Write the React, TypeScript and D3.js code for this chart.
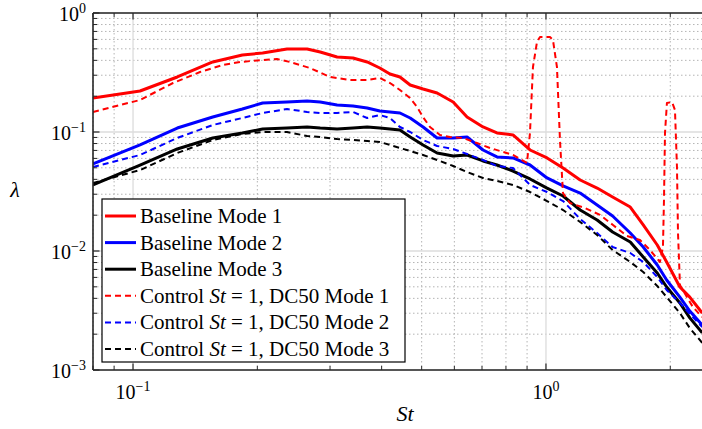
import React from "react";
import * as d3 from "d3";

const ST = [0.080,0.104,0.128,0.156,0.184,0.206,0.236,0.264,0.284,0.312,0.341,0.369,0.396,0.419,0.443,0.469,0.504,0.545,0.596,0.644,0.704,0.761,0.832,0.915,1.006,1.10,1.21,1.33,1.45,1.60,1.72,1.86,1.96,2.11,2.23,2.39];

const BASE1 = [0.1931,0.2211,0.2899,0.3877,0.4437,0.4611,0.4982,0.4982,0.4702,0.4270,0.4186,0.3877,0.3450,0.3073,0.2899,0.2483,0.2298,0.2127,0.1787,0.1337,0.1102,0.0981,0.0944,0.0706,0.0605,0.0498,0.0395,0.0338,0.0284,0.0234,0.01654,0.01123,0.00808,0.00498,0.00410,0.00301];
const BASE2 = [0.0539,0.0778,0.1080,0.1337,0.1561,0.1753,0.1787,0.1822,0.1787,0.1686,0.1654,0.1591,0.1501,0.1473,0.1444,0.1311,0.1102,0.0891,0.0891,0.0908,0.0706,0.0617,0.0605,0.0528,0.0411,0.0352,0.0307,0.0244,0.0197,0.01417,0.01080,0.00763,0.00571,0.00410,0.00313,0.00239];
const BASE3 = [0.0359,0.0528,0.0720,0.0891,0.0981,0.1060,0.1080,0.1102,0.1080,0.1060,0.1080,0.1102,0.1080,0.1060,0.1039,0.0908,0.0778,0.0666,0.0629,0.0641,0.0571,0.0528,0.0470,0.0403,0.0338,0.0290,0.0221,0.01822,0.01444,0.01190,0.00891,0.00653,0.00498,0.00366,0.00274,0.00205];
const CTRL2 = [0.0508,0.0641,0.0891,0.1145,0.1311,0.1444,0.1561,0.1473,0.1444,0.1444,0.1473,0.1311,0.1389,0.1311,0.1102,0.1000,0.0857,0.0763,0.0720,0.0653,0.0582,0.0518,0.0498,0.0359,0.0313,0.0263,0.01857,0.01417,0.01080,0.00962,0.00808,0.00605,0.00470,0.00366,0.00296,0.00230];
const CTRL3 = [0.0373,0.0479,0.0666,0.0857,0.0962,0.1000,0.1000,0.0926,0.0908,0.0873,0.0857,0.0840,0.0824,0.0778,0.0734,0.0692,0.0641,0.0582,0.0518,0.0461,0.0411,0.0388,0.0359,0.0313,0.0263,0.0221,0.01753,0.01363,0.01019,0.00808,0.00666,0.00508,0.00410,0.00301,0.00225,0.00169];

const ST_C1 = [0.0800,0.1040,0.1250,0.1453,0.1651,0.1816,0.2064,0.2232,0.2399,0.2683,0.2999,0.3352,0.3686,0.3963,0.4190,0.4430,0.4685,0.4873,0.5038,0.5238,0.5538,0.5856,0.6295,0.6806,0.7318,0.8319,0.8995,0.9147,0.9301,0.9511,0.9672,1.0226,1.0397,1.0632,1.0812,1.0995,1.1430,1.2428,1.3514,1.453,1.571,1.689,1.786,1.888,1.920,1.931,1.942,1.963,2.019,2.053,2.076,2.088,2.111,2.194,2.269,2.387];
const CTRL1 = [0.1473,0.1858,0.2581,0.3192,0.3656,0.3877,0.4027,0.4106,0.3877,0.3450,0.2899,0.2735,0.2735,0.2842,0.2581,0.2254,0.1931,0.1622,0.1337,0.1102,0.0944,0.0908,0.0891,0.0808,0.0734,0.0641,0.0549,0.0981,0.3517,0.5706,0.6285,0.6285,0.5931,0.3517,0.0857,0.0307,0.0253,0.0230,0.0201,0.01654,0.01337,0.01237,0.01019,0.00808,0.01080,0.0268,0.0981,0.1753,0.1787,0.1531,0.0508,0.01417,0.00518,0.00410,0.00338,0.00279];

const X_MAJOR = [0.1, 1];
const X_MAJOR_EXP = ["\u22121", "0"];
const Y_MAJOR = [1e-3, 1e-2, 1e-1, 1];
const Y_MAJOR_EXP = ["\u22123", "\u22122", "\u22121", "0"];

const SERIES = [
  { label: "Baseline Mode 1", x: ST, y: BASE1, color: "#ff0000", dashed: false },
  { label: "Baseline Mode 2", x: ST, y: BASE2, color: "#0000ff", dashed: false },
  { label: "Baseline Mode 3", x: ST, y: BASE3, color: "#000000", dashed: false },
  { label: "Control St = 1, DC50 Mode 1", x: ST_C1, y: CTRL1, color: "#ff0000", dashed: true },
  { label: "Control St = 1, DC50 Mode 2", x: ST, y: CTRL2, color: "#0000ff", dashed: true },
  { label: "Control St = 1, DC50 Mode 3", x: ST, y: CTRL3, color: "#000000", dashed: true },
];

const W = 702, H = 429;
const L = 93, R = 702, T = 13, B = 370;
const FONT = "'Liberation Serif', 'Times New Roman', serif";

export default function App() {
  const x = d3.scaleLog().domain([0.08, 2.387]).range([L, R]);
  const y = d3.scaleLog().domain([1e-3, 1]).range([B, T]);

  const xMinor: number[] = [];
  [0.01, 0.1, 1].forEach((d) => {
    for (let k = 2; k <= 9; k++) {
      const v = d * k;
      if (v >= 0.08 && v <= 2.387) xMinor.push(v);
    }
  });
  const yMinor: number[] = [];
  [1e-3, 1e-2, 1e-1].forEach((d) => {
    for (let k = 2; k <= 9; k++) yMinor.push(d * k);
  });

  const line = (xs: number[], ys: number[]) =>
    d3.line<number>().x((_, i) => x(xs[i])).y((v) => y(v))(ys) || "";

  const axisColor = "#262626";
  const legX = 102, legY = 199, legW = 303, legH = 163;
  const rowH = 26.6;

  return (
    <div style={{ position: "absolute", left: 0, top: 0 }}>
      <svg width={W} height={H} style={{ display: "block", background: "#fff" }} fontFamily={FONT}>
        <defs>
          <clipPath id="plot">
            <rect x={L} y={T} width={R - L} height={B - T} />
          </clipPath>
        </defs>
        {/* minor grid */}
        {xMinor.map((v) => (
          <line key={"xm" + v} x1={x(v)} x2={x(v)} y1={T} y2={B} stroke="#b4b4b4" strokeWidth={1} strokeDasharray="1.5,2.5" />
        ))}
        {yMinor.map((v) => (
          <line key={"ym" + v} x1={L} x2={R} y1={y(v)} y2={y(v)} stroke="#b4b4b4" strokeWidth={1} strokeDasharray="1.5,2.5" />
        ))}
        {/* major grid */}
        {X_MAJOR.map((v) => (
          <line key={"xM" + v} x1={x(v)} x2={x(v)} y1={T} y2={B} stroke="#dcdcdc" strokeWidth={1.3} />
        ))}
        {Y_MAJOR.map((v) => (
          <line key={"yM" + v} x1={L} x2={R} y1={y(v)} y2={y(v)} stroke="#dcdcdc" strokeWidth={1.3} />
        ))}
        {/* series */}
        <g clipPath="url(#plot)">
          {SERIES.map((s) => (
            <path key={s.label} d={line(s.x, s.y)} fill="none" stroke={s.color}
              strokeWidth={s.dashed ? 2 : 3} strokeDasharray={s.dashed ? "6,4" : undefined}
              strokeLinejoin="round" />
          ))}
        </g>
        {/* axes */}
        <line x1={L} x2={R} y1={B} y2={B} stroke={axisColor} strokeWidth={1.6} />
        <line x1={L} x2={R} y1={T} y2={T} stroke={axisColor} strokeWidth={1.6} />
        <line x1={L} x2={L} y1={T} y2={B} stroke={axisColor} strokeWidth={1.6} />
        {xMinor.map((v) => (
          <g key={"xt" + v}>
            <line x1={x(v)} x2={x(v)} y1={B} y2={B - 4} stroke={axisColor} strokeWidth={1} />
            <line x1={x(v)} x2={x(v)} y1={T} y2={T + 4} stroke={axisColor} strokeWidth={1} />
          </g>
        ))}
        {X_MAJOR.map((v) => (
          <g key={"xT" + v}>
            <line x1={x(v)} x2={x(v)} y1={B} y2={B - 6.5} stroke={axisColor} strokeWidth={1.2} />
            <line x1={x(v)} x2={x(v)} y1={T} y2={T + 6.5} stroke={axisColor} strokeWidth={1.2} />
          </g>
        ))}
        {yMinor.map((v) => (
          <line key={"yt" + v} x1={L} x2={L + 4} y1={y(v)} y2={y(v)} stroke={axisColor} strokeWidth={1} />
        ))}
        {Y_MAJOR.map((v) => (
          <line key={"yT" + v} x1={L} x2={L + 6.5} y1={y(v)} y2={y(v)} stroke={axisColor} strokeWidth={1.2} />
        ))}
        {/* tick labels */}
        {X_MAJOR.map((v, i) => (
          <text key={"xl" + v} x={x(v)} y={B + 29} textAnchor="middle" fontSize={20} fill="#000">
            10<tspan fontSize={14} dy={-8}>{X_MAJOR_EXP[i]}</tspan>
          </text>
        ))}
        {Y_MAJOR.map((v, i) => (
          <text key={"yl" + v} x={86} y={y(v) + 8} textAnchor="end" fontSize={20} fill="#000">
            10<tspan fontSize={14} dy={-8}>{Y_MAJOR_EXP[i]}</tspan>
          </text>
        ))}
        {/* axis titles */}
        <text x={405} y={421} textAnchor="middle" fontSize={22} fontStyle="italic" fill="#000">St</text>
        <text x={15} y={197} textAnchor="middle" fontSize={22} fontStyle="italic" fill="#000">λ</text>
        {/* legend */}
        <rect x={legX} y={legY} width={legW} height={legH} fill="#fff" stroke="#000" strokeWidth={1.2} />
        {SERIES.map((s, i) => {
          const cy = legY + 17 + i * rowH;
          const parts = s.label.split("St");
          return (
            <g key={"lg" + i}>
              <line x1={105} x2={136} y1={cy} y2={cy} stroke={s.color}
                strokeWidth={s.dashed ? 2 : 3} strokeDasharray={s.dashed ? "6,4" : undefined} />
              <text x={140} y={cy + 7} fontSize={21} fill="#000">
                {parts.length > 1 ? (
                  <>
                    {parts[0]}<tspan fontStyle="italic">St</tspan>{parts[1]}
                  </>
                ) : s.label}
              </text>
            </g>
          );
        })}
      </svg>
    </div>
  );
}
